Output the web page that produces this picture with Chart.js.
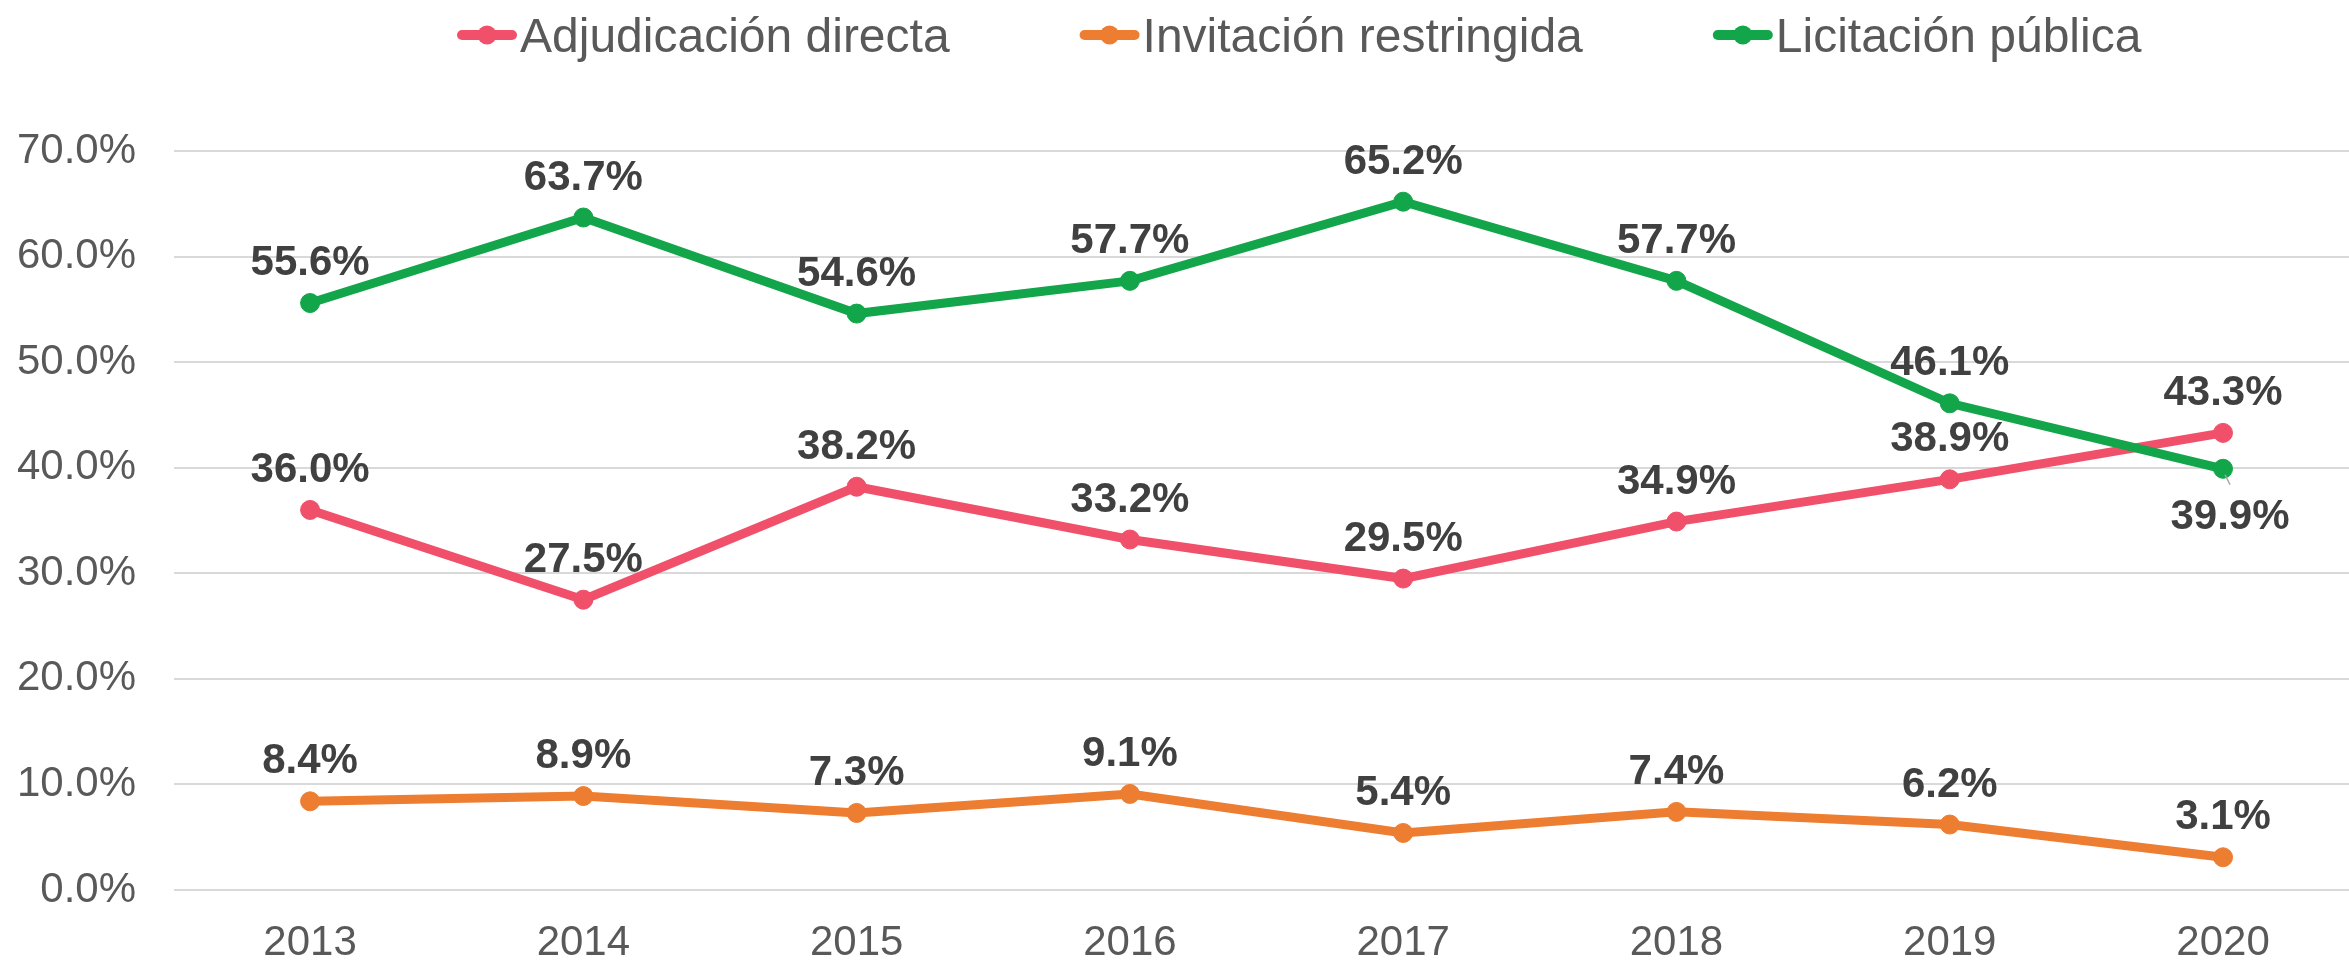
<!DOCTYPE html>
<html>
<head>
<meta charset="utf-8">
<script src="https://cdn.jsdelivr.net/npm/chart.js@4.4.0/dist/chart.umd.min.js"></script>
<style>
  html, body { margin: 0; padding: 0; background: #fff; overflow: hidden; }
  canvas { display: block; }
</style>
</head>
<body>
<canvas id="chart" width="2349" height="960"></canvas>
<script>
const years = [2013, 2014, 2015, 2016, 2017, 2018, 2019, 2020]
const adjudicacion = [36.0, 27.5, 38.2, 33.2, 29.5, 34.9, 38.9, 43.3]
const invitacion = [8.4, 8.9, 7.3, 9.1, 5.4, 7.4, 6.2, 3.1]
const licitacion = [55.6, 63.7, 54.6, 57.7, 65.2, 57.7, 46.1, 39.9]
const seriesNames = ["Adjudicación directa", "Invitación restringida", "Licitación pública"]
const yTicks = [0, 10, 20, 30, 40, 50, 60, 70]

const colors = ["#f0506a", "#ed7d31", "#12a54a"]
const FONT = "'Liberation Sans', Arial, sans-serif"
Chart.defaults.font.family = FONT

const toPoints = vals => years.map((y, i) => ({ x: y, y: vals[i] }))

// leyenda a mano: línea + punto + texto
const lineLegend = {
  id: "lineLegend",
  afterDraw(chart) {
    const ctx = chart.ctx
    ctx.save()
    ctx.font = "48px " + FONT
    let x = 457
    const y = 35
    chart.data.datasets.forEach(ds => {
      ctx.strokeStyle = ds.borderColor
      ctx.lineWidth = 10
      ctx.lineCap = "round"
      ctx.beginPath()
      ctx.moveTo(x + 5, y)
      ctx.lineTo(x + 55, y)
      ctx.stroke()
      ctx.fillStyle = ds.borderColor
      ctx.beginPath()
      ctx.arc(x + 30, y, 9.5, 0, Math.PI * 2)
      ctx.fill()
      ctx.fillStyle = "#595959"
      ctx.textBaseline = "alphabetic"
      ctx.fillText(ds.label, x + 63, 52)
      x += 63 + ctx.measureText(ds.label).width + 130
    })
    ctx.restore()
  }
}

// etiquetas de valor
const valueLabels = {
  id: "valueLabels",
  afterDatasetsDraw(chart) {
    const ctx = chart.ctx
    ctx.save()
    ctx.font = "bold 42px " + FONT
    ctx.textAlign = "center"
    ctx.textBaseline = "alphabetic"
    chart.data.datasets.forEach((ds, i) => {
      const meta = chart.getDatasetMeta(i)
      meta.data.forEach((pt, j) => {
        let tx = pt.x
        let ty = pt.y - 28
        if (i === 2 && j === years.length - 1) {
          // la última de licitación va abajo, con línea guía
          ctx.strokeStyle = "#a6a6a6"
          ctx.lineWidth = 1.5
          ctx.beginPath()
          ctx.moveTo(pt.x + 2, pt.y + 6)
          ctx.lineTo(pt.x + 7, pt.y + 16)
          ctx.stroke()
          tx += 7
          ty = pt.y + 60
        }
        ctx.fillStyle = "#404040"
        ctx.fillText(ds.data[j].y.toFixed(1) + "%", tx, ty)
      })
    })
    ctx.restore()
  }
}

new Chart(document.getElementById("chart"), {
  type: "line",
  data: {
    datasets: [
      { label: seriesNames[0], data: toPoints(adjudicacion), borderColor: colors[0], backgroundColor: colors[0], order: 1 },
      { label: seriesNames[1], data: toPoints(invitacion), borderColor: colors[1], backgroundColor: colors[1], order: 2 },
      { label: seriesNames[2], data: toPoints(licitacion), borderColor: colors[2], backgroundColor: colors[2], order: 0 }
    ]
  },
  options: {
    responsive: false,
    animation: false,
    elements: {
      line: { borderWidth: 9, tension: 0 },
      point: { radius: 9.5, hoverRadius: 9.5, borderWidth: 1 }
    },
    layout: { autoPadding: false, padding: { top: 151, right: 0, bottom: 0, left: 0 } },
    plugins: {
      legend: { display: false },
      tooltip: { enabled: false }
    },
    scales: {
      x: {
        type: "linear",
        min: 2012.502,
        max: 2020.461,
        afterBuildTicks: s => { s.ticks = years.map(v => ({ value: v })) },
        afterFit: s => { s.height = 70 },
        grid: { display: false, drawTicks: false },
        border: { display: false },
        ticks: {
          callback: v => String(v),
          font: { size: 42, lineHeight: 1 },
          color: "#595959",
          padding: 32,
          maxRotation: 0,
          autoSkip: false
        }
      },
      y: {
        min: 0,
        max: 70,
        afterBuildTicks: s => { s.ticks = yTicks.map(v => ({ value: v })) },
        afterFit: s => { s.width = 174 },
        grid: { color: "#d9d9d9", lineWidth: 2, drawTicks: false },
        border: { display: false },
        ticks: {
          callback: v => v.toFixed(1) + "%",
          font: { size: 42 },
          color: "#595959",
          padding: 38
        }
      }
    }
  },
  plugins: [lineLegend, valueLabels]
})
</script>
</body>
</html>
